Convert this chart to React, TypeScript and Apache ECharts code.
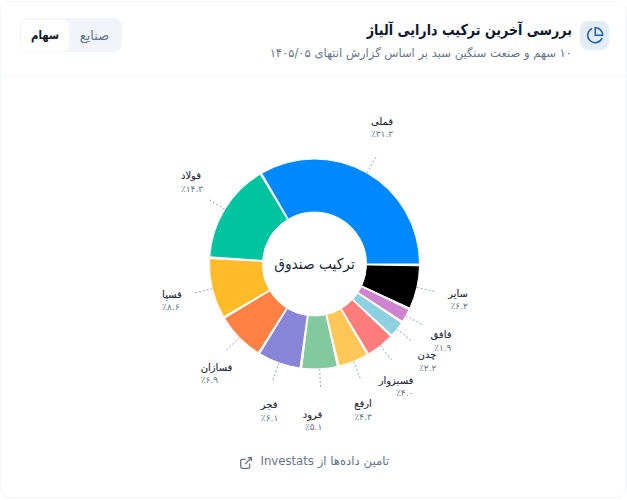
import React, { useEffect, useRef } from "react";
import * as echarts from "echarts";

const names = ["فملی", "فولاد", "فسپا", "فسازان", "فجر", "فرود", "ارفع", "فسبزوار", "چدن", "فافق", "سایر"];
const weights = [31.3, 14.3, 8.6, 6.9, 6.1, 5.1, 4.3, 4.0, 2.2, 1.9, 6.2];
const weightLabels = ["٪۳۱.۳", "٪۱۴.۳", "٪۸.۶", "٪۶.۹", "٪۶.۱", "٪۵.۱", "٪۴.۳", "٪۴.۰", "٪۲.۲", "٪۱.۹", "٪۶.۲"];
const colors = ["#0088fe", "#00c49f", "#ffbb28", "#ff8042", "#8884d8", "#82ca9d", "#ffc658", "#ff7c7c", "#8dd1e1", "#d084d0", "#000000"];
// Where the centre of each two-line label sits in the reference.
const labelCentres = [[382, 127.5], [192, 182], [172, 300.5], [216.5, 373.5], [269.5, 411], [312.5, 420.5], [363, 410], [396, 386.5], [427, 361], [441, 341], [458, 299.5]];
const labelAligns = ["right", "left", "left", "left", "left", "right", "right", "right", "right", "right", "right"];

const FONT = "'DejaVu Sans', sans-serif";
const rtl = (s: string) => "\u202B" + s + "\u202C";

// The reference separates its slices by one degree taken out of the full circle,
// so each slice spans its share of (360 - n) degrees plus the one-degree gap.
const PAD_DEGREES = 1;
const total = weights.reduce((a, b) => a + b, 0);
const padShare = (PAD_DEGREES * total) / (360 - weights.length * PAD_DEGREES);

echarts.graphic.registerShape(
  "extLink",
  echarts.graphic.extendPath(
    "M18 13v6a2 2 0 0 1-2 2H5a2 2 0 0 1-2-2V8a2 2 0 0 1 2-2h6 M15 3h6v6 M10 14L21 3",
    {}
  )
);
echarts.graphic.registerShape(
  "pieIcon",
  echarts.graphic.extendPath(
    "M21.21 15.89A10 10 0 1 1 8 2.83 M22 12A10 10 0 0 0 12 2v10z",
    {}
  )
);

export default function App() {
  const ref = useRef<HTMLDivElement>(null);
  useEffect(() => {
    document.body.style.margin = "0";
    const chart = echarts.init(ref.current!, null, { renderer: "svg" });
    chart.setOption({
      animation: false,
      backgroundColor: "#ffffff",
      series: [
        {
          type: "pie",
          center: [314.5, 264],
          radius: [52, 105],
          startAngle: -0.5,
          clockwise: false,
          padAngle: PAD_DEGREES,
          avoidLabelOverlap: false,
          itemStyle: { borderWidth: 1, borderColor: "#ffffff" },
          labelLine: {
            show: true,
            length: 19,
            length2: 0,
            lineStyle: { color: "#94a3b8", width: 1, type: [2, 2] },
          },
          labelLayout: (p: any) => ({
            dx: labelCentres[p.dataIndex][0] - (p.labelRect.x + p.labelRect.width / 2),
            dy: labelCentres[p.dataIndex][1] - (p.labelRect.y + p.labelRect.height / 2),
          }),
          data: names.map((name, i) => ({
            name,
            value: weights[i] + padShare,
            itemStyle: { color: colors[i] },
            label: {
              show: true,
              position: "outside",
              formatter: `{n|${name}}\n{v|${weightLabels[i]}}`,
              rich: {
                n: { fontFamily: FONT, fontSize: 10, color: "#1e293b", textBorderColor: "#1e293b", textBorderWidth: 0.12, lineHeight: 13, align: labelAligns[i] },
                v: { fontFamily: FONT, fontSize: 9, color: "#64748b", lineHeight: 13, align: labelAligns[i] },
              },
            },
          })),
        },
      ],
      graphic: [
        { type: "rect", shape: { x: 0.5, y: 1.5, width: 626, height: 496, r: 10 }, style: { fill: "#fff", stroke: "#f1f5f9", lineWidth: 1 }, z: -10 },
        { type: "line", shape: { x1: 0, y1: 75.5, x2: 627, y2: 75.5 }, style: { stroke: "#f1f5f9", lineWidth: 1 } },
        { type: "rect", shape: { x: 20, y: 18, width: 102, height: 34, r: 8 }, style: { fill: "#f1f5f9" } },
        { type: "rect", shape: { x: 21, y: 20, width: 48, height: 31, r: 6 }, style: { fill: "#ffffff" } },
        { type: "text", x: 45, y: 35, scaleX: 0.85, style: { text: "سهام", font: `700 12px ${FONT}`, fill: "#0f172a", align: "center", verticalAlign: "middle" } },
        { type: "text", x: 94.5, y: 35, style: { text: "صنایع", font: `400 13px ${FONT}`, fill: "#64748b", align: "center", verticalAlign: "middle" } },
        { type: "rect", shape: { x: 580, y: 21, width: 29, height: 29, r: 8 }, style: { fill: "#e3edf8" } },
        { type: "pieIcon", x: 586.2, y: 26.2, scaleX: 0.75, scaleY: 0.75, style: { fill: "none", stroke: "#1d5fb8", lineWidth: 2 } },
        { type: "text", x: 572, y: 30, scaleX: 0.845, style: { text: rtl("بررسی آخرین ترکیب دارایی آلیاژ"), font: `700 15px ${FONT}`, fill: "#0f172a", align: "right", verticalAlign: "middle" } },
        { type: "text", x: 572, y: 53, style: { text: rtl("۱۰ سهم و صنعت سنگین سبد بر اساس گزارش انتهای ۱۴۰۵/۰۵"), font: `400 11.55px ${FONT}`, fill: "#64748b", align: "right", verticalAlign: "middle" } },
        { type: "text", x: 314.5, y: 263.5, scaleX: 0.92, style: { text: "ترکیب صندوق", font: `400 15px ${FONT}`, fill: "#1e293b", align: "center", verticalAlign: "middle" } },
        { type: "text", x: 389, y: 461, style: { text: rtl("تامین داده‌ها از Investats"), font: `400 11.7px ${FONT}`, fill: "#64748b", align: "right", verticalAlign: "middle" } },
        { type: "extLink", x: 239, y: 455.9, scaleX: 0.59, scaleY: 0.59, style: { fill: "none", stroke: "#64748b", lineWidth: 2.2 } },
      ],
    });
    return () => chart.dispose();
  }, []);
  return <div ref={ref} style={{ width: 627, height: 500 }} />;
}
